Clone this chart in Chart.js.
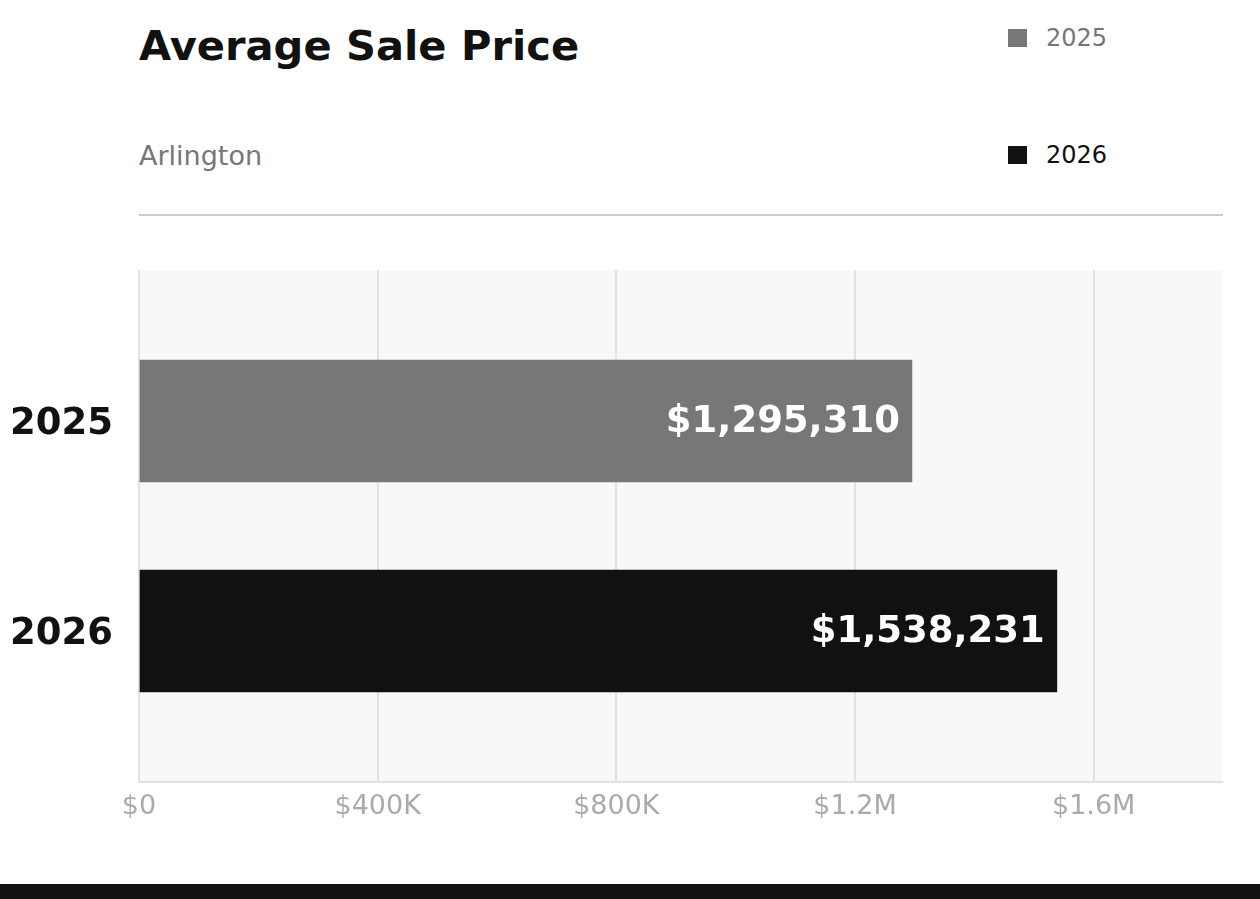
<!DOCTYPE html>
<html>
<head>
<meta charset="utf-8">
<script src="https://cdn.jsdelivr.net/npm/chart.js@4/dist/chart.umd.min.js"></script>
<style>
  html, body { margin: 0; padding: 0; background: #fff; }
  body { width: 1260px; height: 899px; position: relative; overflow: hidden; font-family: "DejaVu Sans", sans-serif; }
  #chart-canvas { position: absolute; left: 0; top: 0; }
  .txt { position: absolute; line-height: 1; white-space: nowrap; }
  #title { left: 139px; top: 25px; font-size: 41.6px; font-weight: bold; color: #111; }
  #subtitle { left: 139px; top: 142px; font-size: 27px; color: #777; }
  .legend-item { position: absolute; left: 1008px; font-size: 24px; line-height: 1; white-space: nowrap; }
  .legend-item .box { display: inline-block; width: 19px; height: 18px; margin-right: 19px; vertical-align: -1px; }
  #rule { position: absolute; left: 139px; top: 214px; width: 1084px; height: 2px; background: #cccccc; }
  #footer { position: absolute; left: 0; top: 884px; width: 1260px; height: 15px; background: #111; }
</style>
</head>
<body>
<div id="title" class="txt">Average Sale Price</div>
<div id="subtitle" class="txt">Arlington</div>
<div id="legend"></div>
<div id="rule"></div>
<canvas id="chart-canvas" width="1260" height="899"></canvas>
<div id="footer"></div>
<script>
var years = ['2025', '2026'];
var prices = [1295310, 1538231];
var barColors = ['#777777', '#111111'];
var xTicks = [0, 400000, 800000, 1200000, 1600000];
var xTickLabels = ['$0', '$400K', '$800K', '$1.2M', '$1.6M'];

// legend, stacked on the right
var legend = document.getElementById('legend');
var legendTops = [26, 143];
years.forEach(function (y, i) {
  var item = document.createElement('div');
  item.className = 'legend-item';
  item.style.top = legendTops[i] + 'px';
  item.style.color = barColors[i];
  item.innerHTML = '<span class="box" style="background:' + barColors[i] + '"></span>' + y;
  legend.appendChild(item);
});

var canvas = document.getElementById('chart-canvas');
var ctx = canvas.getContext('2d');

var areaBg = {
  id: 'areaBg',
  beforeDraw: function (chart) {
    var a = chart.chartArea;
    chart.ctx.save();
    chart.ctx.fillStyle = '#f8f8f8';
    chart.ctx.fillRect(a.left, a.top, a.right - a.left, a.bottom - a.top);
    chart.ctx.restore();
  }
};

var barValues = {
  id: 'barValues',
  afterDatasetsDraw: function (chart) {
    var c = chart.ctx;
    var meta = chart.getDatasetMeta(0);
    c.save();
    c.font = 'bold 37px "DejaVu Sans"';
    c.fillStyle = '#ffffff';
    c.textAlign = 'right';
    c.textBaseline = 'middle';
    meta.data.forEach(function (bar, i) {
      c.fillText('$' + prices[i].toLocaleString('en-US'), bar.x - 12, bar.y + 1);
    });
    c.restore();
  }
};

var chart = new Chart(ctx, {
  type: 'bar',
  data: {
    datasets: [{
      label: 'Average Sale Price',
      data: prices.map(function (p, i) { return { x: p, y: i }; }),
      backgroundColor: barColors,
      borderWidth: 0,
      barThickness: 122
    }]
  },
  options: {
    indexAxis: 'y',
    responsive: false,
    animation: false,
    devicePixelRatio: 1,
    layout: { padding: { top: 270, right: 38, bottom: 0, left: 0 } },
    plugins: {
      legend: { display: false },
      title: { display: false },
      tooltip: { enabled: false }
    },
    scales: {
      x: {
        type: 'linear',
        min: 0,
        max: 1815000,
        afterFit: function (s) { s.height = 117; },
        afterBuildTicks: function (s) { s.ticks = xTicks.map(function (v) { return { value: v }; }); },
        grid: { color: '#e2e2e2', lineWidth: 2, drawTicks: false },
        border: { display: true, color: '#e2e2e2', width: 2 },
        ticks: {
          padding: 9,
          color: '#aaaaaa',
          font: { family: 'DejaVu Sans', size: 27 },
          callback: function (v) { return xTickLabels[xTicks.indexOf(v)]; }
        }
      },
      y: {
        type: 'linear',
        offset: false,
        min: -0.719,
        max: 1.719,
        reverse: true,
        afterFit: function (s) { s.width = 139; },
        afterBuildTicks: function (s) { s.ticks = years.map(function (y, i) { return { value: i }; }); },
        grid: { display: false, drawTicks: false },
        border: { display: false },
        ticks: {
          padding: 26,
          labelOffset: 3,
          color: '#111111',
          font: { family: 'DejaVu Sans', size: 37, weight: 'bold' },
          callback: function (v) { return years[v]; }
        }
      }
    }
  },
  plugins: [areaBg, barValues]
});
</script>
</body>
</html>
